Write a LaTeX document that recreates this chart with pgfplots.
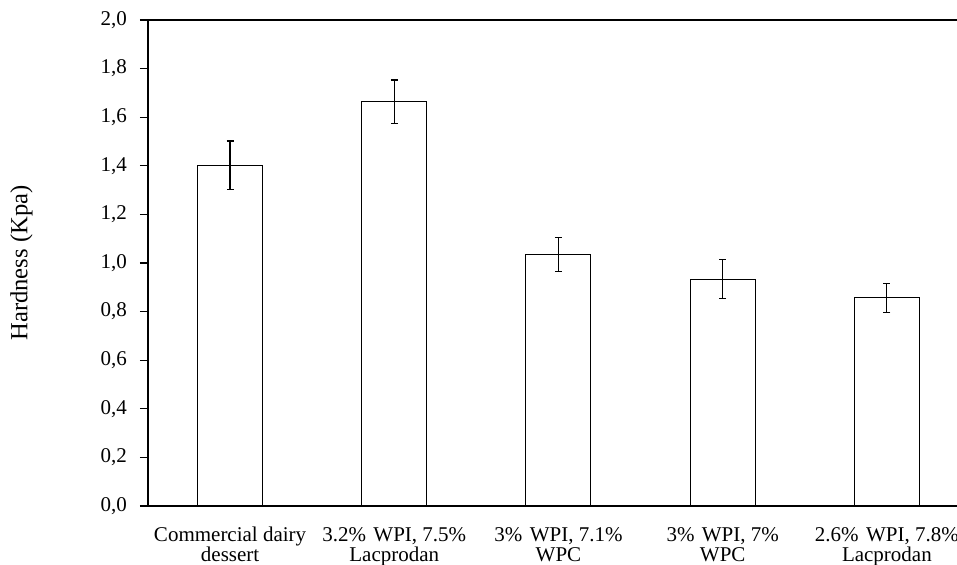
\documentclass[border=0pt]{standalone}
\usepackage{pgfplots}
\pgfplotsset{compat=1.18}
\usepackage{fontspec}
\setmainfont{Liberation Serif}
\begin{document}
\begin{tikzpicture}
\begin{axis}[
  name=ax,
  scale only axis,
  width=404.5pt, height=243pt,
  xmin=-0.5, xmax=4.427,
  ymin=0, ymax=2.0,
  ytick={0,0.2,...,2.01},
  xtick={0,1,2,3,4},
  xticklabels={{Commercial dairy\\dessert},{3.2\%\hspace{0.35em}WPI, 7.5\%\\Lacprodan},{3\%\hspace{0.35em}WPI, 7.1\%\\WPC},{3\%\hspace{0.35em}WPI, 7\%\\WPC},{2.6\%\hspace{0.35em}WPI, 7.8\%\\Lacprodan}},
  minor xtick={-0.5,0.5,1.5,2.5,3.5},
  xtick style={draw=none},
  minor x tick style={black, line width=0.6pt},
  minor tick length=3pt,
  major tick length=4pt,
  y tick style={black, line width=0.6pt},
  tick align=outside,
  tick pos=left,
  axis line style={draw=none},
  xticklabel style={font=\fontsize{10.5}{10}\selectfont, align=center, yshift=-3pt},
  yticklabel style={font=\fontsize{10.5}{12}\selectfont, xshift=-3pt},
  /pgf/number format/.cd, use comma, fixed, fixed zerofill, precision=1, assume math mode=true,
  /pgfplots/.cd,
  ylabel={Hardness (Kpa)},
  ylabel style={font=\fontsize{12.3}{14}\selectfont, at={(axis description cs:-0.142,0.5)}, anchor=south, inner sep=0pt, rotate=0},
  clip=false,
]
\addplot[ybar, bar width=32.5pt, fill=white, draw=black, line width=0.5pt,
  error bars/.cd, y dir=both, y explicit,
  error bar style={black, line width=0.6pt},
  error mark options={rotate=90, mark size=1.75pt, line width=0.6pt, black}]
  coordinates {
  (0,1.402) +- (0,0.100)
  (1,1.664) +- (0,0.089)
  (2,1.034) +- (0,0.070)
  (3,0.934) +- (0,0.079)
  (4,0.856) +- (0,0.060)
  };
\draw[black, line width=0.8pt] (rel axis cs:0,0) -- (rel axis cs:1,0);
\draw[black, line width=0.8pt] (rel axis cs:0,0) -- (rel axis cs:0,1) -- (rel axis cs:1,1);
\end{axis}
\pgfresetboundingbox
\path ([xshift=-74pt,yshift=-29.5pt]ax.south west) rectangle ([yshift=10pt]ax.north east);
\end{tikzpicture}
\end{document}
